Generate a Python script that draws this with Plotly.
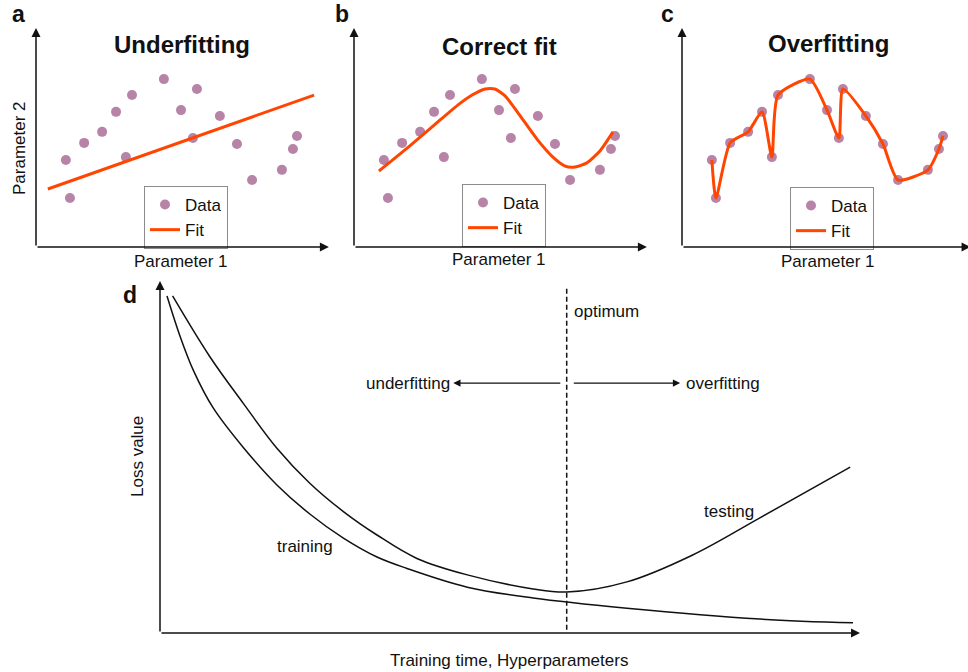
import plotly.graph_objects as go

FONT = "Liberation Sans, Arial, sans-serif"
DOT = "#b784a7"
FIT = "#ff4500"
INK = "#111111"

# ---- shared scatter data (Parameter 1, Parameter 2) ----
param1 = [1.03, 1.17, 1.66, 2.28, 2.76, 3.10, 3.31, 4.41, 5.00, 5.41, 5.55, 6.34, 6.93, 7.45, 8.48, 8.86, 9.00]
param2 = [3.00, 1.69, 3.59, 3.97, 4.66, 3.10, 5.24, 5.79, 4.72, 3.76, 5.45, 4.52, 3.55, 2.31, 2.66, 3.38, 3.83]

# underfitting: straight-line fit
under_x = [0.41, 9.59]
under_y = [2.00, 5.24]

# correct fit: smooth curve
correct_x = [0.86, 1.59, 2.28, 2.97, 3.59, 4.07, 4.52, 4.86, 5.21, 5.66, 6.31, 6.86, 7.28, 7.62, 8.03, 8.48, 8.93]
correct_y = [2.62, 3.21, 3.79, 4.38, 4.90, 5.24, 5.45, 5.45, 5.21, 4.62, 3.72, 3.10, 2.79, 2.76, 2.90, 3.31, 3.97]

# ---- loss curves ----
train_t = [0.10, 0.29, 0.48, 0.76, 1.19, 1.67, 2.14, 2.62, 3.10, 3.52, 4.39, 5.33, 6.67, 8.57, 9.90]
train_loss = [9.63, 8.46, 7.49, 6.43, 5.30, 4.23, 3.40, 2.71, 2.17, 1.85, 1.31, 1.00, 0.71, 0.40, 0.29]
test_t = [0.18, 0.71, 1.19, 1.67, 2.14, 2.62, 3.10, 3.67, 4.39, 5.33, 5.81, 6.67, 7.61, 8.57, 9.86]
test_loss = [9.63, 7.90, 6.56, 5.28, 4.28, 3.47, 2.80, 2.13, 1.66, 1.26, 1.17, 1.46, 2.23, 3.29, 4.74]
OPTIMUM = 5.81

PX_TOP = 29.0   # pixels per unit, top panels
fig = go.Figure()

panels = [
    ("", "", "legend", under_x, under_y, "linear"),
    ("2", "2", "legend2", correct_x, correct_y, "spline"),
    ("3", "3", "legend3", sorted(param1), [y for _, y in sorted(zip(param1, param2))], "spline"),
]
for xs, ys, leg, fx, fy, shape in panels:
    fig.add_trace(go.Scatter(x=param1, y=param2, mode="markers", name="Data",
                             marker=dict(color=DOT, size=10), xaxis="x" + xs, yaxis="y" + ys,
                             legend=leg, cliponaxis=False))
    fig.add_trace(go.Scatter(x=fx, y=fy, mode="lines", name="Fit",
                             line=dict(color=FIT, width=3, shape=shape, smoothing=0.6),
                             xaxis="x" + xs, yaxis="y" + ys, legend=leg, cliponaxis=False))

fig.add_trace(go.Scatter(x=test_t, y=test_loss, mode="lines",
                         line=dict(color=INK, width=1.5, shape="spline", smoothing=1.0),
                         xaxis="x4", yaxis="y4", showlegend=False))
fig.add_trace(go.Scatter(x=train_t, y=train_loss, mode="lines",
                         line=dict(color=INK, width=1.5, shape="spline", smoothing=1.0),
                         xaxis="x4", yaxis="y4", showlegend=False))

W, H = 968, 672
def dom(p0, p1, total):
    return [p0 / total, p1 / total]

hidden = dict(visible=False, fixedrange=True)
top_y = dict(domain=[1 - 247 / H, 1 - 20 / H], range=[0, 227 / PX_TOP], **hidden)
fig.update_layout(
    width=W, height=H, margin=dict(l=0, r=0, t=0, b=0),
    paper_bgcolor="white", plot_bgcolor="rgba(0,0,0,0)",
    font=dict(family=FONT, size=17, color=INK),
    xaxis=dict(domain=dom(36, 336, W), range=[0, 300 / PX_TOP], **hidden),
    xaxis2=dict(domain=dom(354, 654, W), range=[0, 300 / PX_TOP], **hidden),
    xaxis3=dict(domain=dom(682, 968, W), range=[0, 286 / PX_TOP], **hidden),
    yaxis=dict(anchor="x", **top_y),
    yaxis2=dict(anchor="x2", **top_y),
    yaxis3=dict(anchor="x3", **top_y),
    xaxis4=dict(domain=dom(160, 880, W), range=[0, 720 / 70], anchor="y4", **hidden),
    yaxis4=dict(domain=[1 - 633 / H, 1 - 276 / H], range=[0, 357 / 35], anchor="x4", **hidden),
)

leg_style = dict(bgcolor="white", bordercolor="#8c8c8c", borderwidth=1, xanchor="left", yanchor="top",
                 font=dict(family=FONT, size=17, color=INK), itemwidth=30, tracegroupgap=0)
fig.update_layout(
    legend=dict(x=144 / W, y=1 - 186 / H, **leg_style),
    legend2=dict(x=462 / W, y=1 - 184 / H, **leg_style),
    legend3=dict(x=790 / W, y=1 - 187 / H, **leg_style),
)

ann = []
def arrow(xr, yr, x, y, ax, ay, width=1.5):
    ann.append(dict(xref=xr, yref=yr, axref=xr, ayref=yr, x=x, y=y, ax=ax, ay=ay, text="",
                    showarrow=True, arrowhead=2, arrowsize=1.2, arrowwidth=width,
                    arrowcolor=INK, standoff=0, startstandoff=0))

# axis arrows of the three small panels
for xs, ys, xtip in [("x", "y", 10.1), ("x2", "y2", 10.1), ("x3", "y3", 9.95)]:
    arrow(xs, ys, xtip, 0, 0, 0)
    arrow(xs, ys, 0, 7.55, 0, 0)
# axis arrows of the loss panel
arrow("x4", "y4", 10.0, 0, 0, 0)
arrow("x4", "y4", 0, 10.06, 0, 0)
# underfitting / overfitting direction arrows
arrow("x4", "y4", 4.19, 7.14, 5.74, 7.14, width=1.2)
arrow("x4", "y4", 7.43, 7.14, 5.89, 7.14, width=1.2)

def text(s, x, y, size=17, bold=False, xanchor="center", angle=0, xref="paper", yref="paper"):
    if xref == "paper":
        x, y = x / W, 1 - y / H
    ann.append(dict(xref=xref, yref=yref, x=x, y=y, text=f"<b>{s}</b>" if bold else s,
                    showarrow=False, xanchor=xanchor, yanchor="middle", textangle=angle,
                    font=dict(family=FONT, size=size, color=INK)))

text("a", 18, 14, size=23, bold=True)
text("b", 342, 14, size=23, bold=True)
text("c", 667, 14, size=23, bold=True)
text("d", 130, 295, size=23, bold=True)
text("Underfitting", 182, 45, size=24, bold=True)
text("Correct fit", 500, 47, size=24, bold=True)
text("Overfitting", 828, 43, size=24, bold=True)
text("Parameter 1", 181, 262)
text("Parameter 1", 499, 259)
text("Parameter 1", 828, 262)
text("Parameter 2", 19, 148, angle=-90)
text("Loss value", 137, 457, angle=-90)
text("Training time, Hyperparameters", 509, 660)
text("underfitting", 4.17, 7.14, xanchor="right", xref="x4", yref="y4")
text("overfitting", 7.49, 7.14, xanchor="left", xref="x4", yref="y4")
text("optimum", 5.89, 9.2, xanchor="left", xref="x4", yref="y4")
text("training", 2.07, 2.46, xref="x4", yref="y4")
text("testing", 8.13, 3.46, xref="x4", yref="y4")
fig.update_layout(annotations=ann)

fig.add_shape(type="line", xref="x4", yref="y4", x0=OPTIMUM, x1=OPTIMUM, y0=0.09, y1=9.89,
              line=dict(color=INK, width=1.5, dash="5px,3px"))

fig.write_html("out.html")
